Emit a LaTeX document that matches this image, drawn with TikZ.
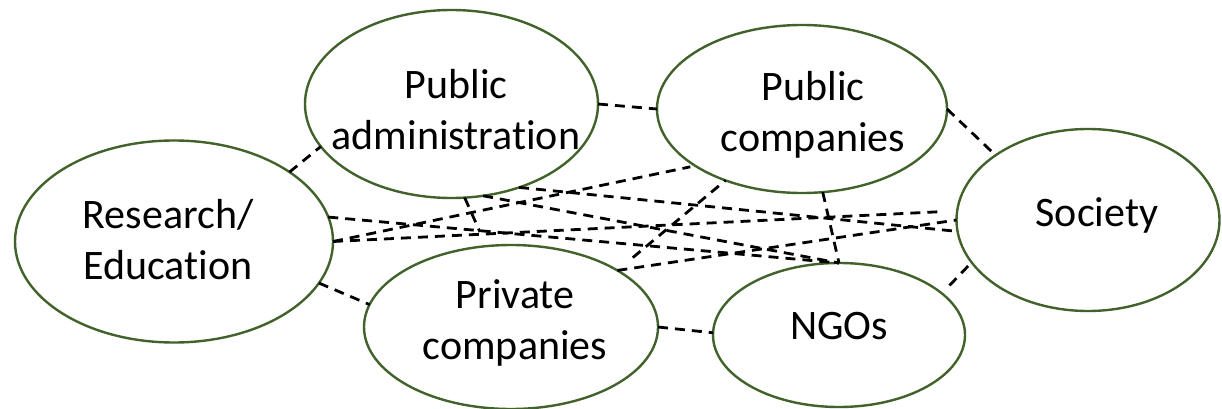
\documentclass[tikz,border=0pt]{standalone}
\usepackage{fontspec}
\setmainfont{Carlito}[Ligatures=NoCommon]
\usetikzlibrary{shapes.geometric}
\definecolor{rim}{HTML}{41622A}
\begin{document}
\begin{tikzpicture}[x=1pt,y=-1pt,
  blob/.style={ellipse, draw=rim, line width=2.4pt, inner sep=0pt, outer sep=0pt},
  lbl/.style={align=center, font=\fontsize{42}{51}\selectfont, inner sep=0pt},
  link/.style={draw=black, line width=2.8pt, dash pattern=on 10pt off 7pt}]
\useasboundingbox (0,0) rectangle (1222,409);

% actors
\node[blob, minimum width=318pt, minimum height=202pt] (R)  at (174,241.5) {};
\node[blob, minimum width=293pt, minimum height=188pt] (PA) at (451.5,104) {};
\node[blob, minimum width=290pt, minimum height=168pt] (PC) at (802,109) {};
\node[blob, minimum width=263pt, minimum height=182pt] (S)  at (1088,220) {};
\node[blob, minimum width=294pt, minimum height=164pt] (PV) at (511,327) {};
\node[blob, minimum width=252pt, minimum height=144pt] (N)  at (839,335) {};

% labels
\node[lbl] (Rt)  at (168,240)   {Research/\\Education};
\node[lbl] (PAt) at (456,110)   {Public\\administration};
\node[lbl] (PCt) at (813,115)   {Public\\companies};
\node[lbl] (St)  at (1097,215.5) {Society};
\node[lbl] (PVt) at (515,323)   {Private\\companies};
\node[lbl] (Nt)  at (839,326)   {NGOs};

% relations
\draw[link] (R.31.9) -- (PA.198.6);
\draw[link] (R.-16.4) -- (PV.171.2);
\draw[link] (PA.0.4) -- (PC.180.4);
\draw[link] (PC.-0.4) -- (S.145);
\draw[link] (PV.-0.8) -- (N.179.6);
\draw[link, shorten <=11pt] (N.22.4) -- (S.200);
\draw[link] (PC.-76.3) -- (N.north);
\draw[link] (R.9.8) -- (N.north);
\draw[link] (PA.-71.2) -- (N.north);
\draw[link, shorten >=5pt] (R.0.7) -- (PC.208.4);
\draw[link, shorten >=19pt] (R.0.3) -- (S.176.1);
\draw[link] (PA.-51.9) -- (S.185.4);
\draw[link, shorten <=20pt] (PV.28.3) -- (PC.223.8);
\draw[link] (PV.28.7) -- (S.180);
\coordinate (stub) at (480,232);
\draw[link] (PA.-82.7) -- (stub);
\end{tikzpicture}
\end{document}
